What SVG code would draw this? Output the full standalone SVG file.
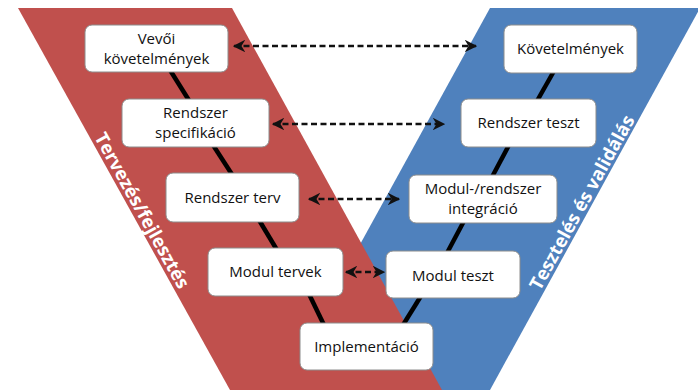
<svg xmlns="http://www.w3.org/2000/svg" width="698" height="390" viewBox="0 0 698 390">
  <defs>
    <marker id="head" viewBox="0 0 10 10" refX="9" refY="5" markerWidth="5" markerHeight="5" orient="auto-start-reverse" markerUnits="strokeWidth">
      <path d="M0,0 L10,5 L0,10 L3,5 Z" fill="#111"/>
    </marker>
  </defs>
  <style>
    .box { fill: #ffffff; stroke: #8c8c8c; stroke-width: 1; }
    .lbl { font-family: "Open Sans", "Liberation Sans", sans-serif; font-size: 15px; fill: #111; text-anchor: middle; }
    .link { stroke: #000; stroke-width: 4.5; stroke-linecap: butt; fill: none; }
    .trace { stroke: #111; stroke-width: 2.5; stroke-dasharray: 6 3.5; fill: none; marker-start: url(#head); marker-end: url(#head); }
    .band { font-family: "Open Sans", "Liberation Sans", sans-serif; font-weight: bold; font-size: 18.5px; fill: #ffffff; text-anchor: middle; dominant-baseline: central; }
  </style>

  <!-- V-model bands: verification (blue) under design (red) -->
  <g id="band-test">
    <polygon points="490,8 700,8 490,390 280,390" fill="#4F81BD"/>
  </g>
  <g id="band-design">
    <polygon points="18,8 232,8 442,390 230,390" fill="#C0504D"/>
  </g>

  <!-- thick links along the V -->
  <g id="links">
    <line class="link" x1="170" y1="70" x2="190" y2="102"/>
    <line class="link" x1="213" y1="145" x2="233" y2="176"/>
    <line class="link" x1="259" y1="220" x2="277" y2="250"/>
    <line class="link" x1="309" y1="294" x2="324" y2="325"/>
    <line class="link" x1="554" y1="71" x2="537" y2="101"/>
    <line class="link" x1="509" y1="145" x2="492" y2="177"/>
    <line class="link" x1="464" y1="221" x2="447" y2="253"/>
    <line class="link" x1="421" y1="296" x2="403" y2="325"/>
  </g>

  <!-- design side -->
  <g id="vevoi-kovetelmenyek">
    <rect class="box" x="85" y="25" width="143" height="47" rx="7"/>
    <text class="lbl" x="156.5" y="44">Vevői</text>
    <text class="lbl" x="156.5" y="64">követelmények</text>
  </g>
  <g id="rendszer-specifikacio">
    <rect class="box" x="122" y="99" width="147" height="48" rx="7"/>
    <text class="lbl" x="195.5" y="118">Rendszer</text>
    <text class="lbl" x="195.5" y="138">specifikáció</text>
  </g>
  <g id="rendszer-terv">
    <rect class="box" x="166" y="173" width="133" height="49" rx="7"/>
    <text class="lbl" x="232.5" y="203">Rendszer terv</text>
  </g>
  <g id="modul-tervek">
    <rect class="box" x="208" y="248" width="135" height="48" rx="7"/>
    <text class="lbl" x="275.5" y="277">Modul tervek</text>
  </g>
  <g id="implementacio">
    <rect class="box" x="300" y="323" width="133" height="47" rx="7"/>
    <text class="lbl" x="366.5" y="352">Implementáció</text>
  </g>

  <!-- test side -->
  <g id="kovetelmenyek">
    <rect class="box" x="504" y="25" width="133" height="48" rx="7"/>
    <text class="lbl" x="570.5" y="54">Követelmények</text>
  </g>
  <g id="rendszer-teszt">
    <rect class="box" x="461" y="99" width="135" height="48" rx="7"/>
    <text class="lbl" x="528.5" y="128">Rendszer teszt</text>
  </g>
  <g id="modul-rendszer-integracio">
    <rect class="box" x="409" y="175" width="148" height="48" rx="7"/>
    <text class="lbl" x="483" y="194">Modul-/rendszer</text>
    <text class="lbl" x="483" y="214">integráció</text>
  </g>
  <g id="modul-teszt">
    <rect class="box" x="386" y="251" width="134" height="47" rx="7"/>
    <text class="lbl" x="453" y="281">Modul teszt</text>
  </g>

  <!-- dashed traceability arrows -->
  <g id="connectors">
    <line class="trace" x1="234" y1="46" x2="476" y2="46"/>
    <line class="trace" x1="273" y1="124" x2="444" y2="124"/>
    <line class="trace" x1="309" y1="199" x2="399" y2="199"/>
    <line class="trace" x1="346" y1="272" x2="384" y2="272"/>
  </g>

  <!-- band titles -->
  <g id="title-design">
    <text class="band" transform="translate(143,210) rotate(61)">Tervezés/fejlesztés</text>
  </g>
  <g id="title-test">
    <text class="band" transform="translate(581,202) rotate(-61)">Tesztelés és validálás</text>
  </g>
</svg>
